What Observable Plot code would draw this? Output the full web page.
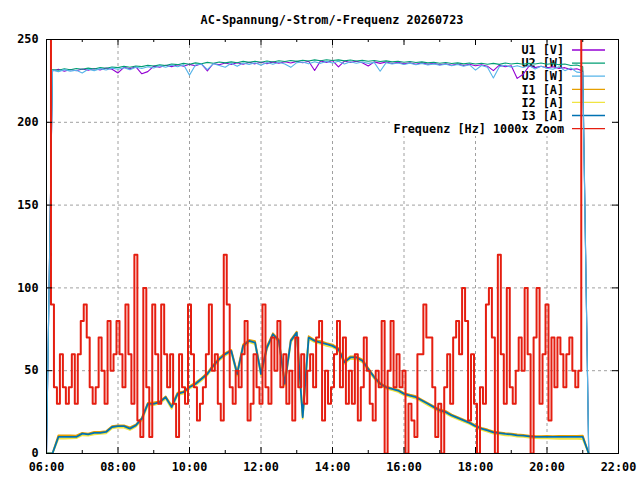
<!DOCTYPE html>
<html><head><meta charset="utf-8">
<script src="https://cdn.jsdelivr.net/npm/d3@7"></script>
<script src="https://cdn.jsdelivr.net/npm/@observablehq/plot@0.6"></script>
<style>
body{margin:0;background:#fff;width:640px;height:480px;overflow:hidden;font-family:"DejaVu Sans Mono",monospace;}
#title{position:relative;height:30px;}
#title span{position:absolute;left:0;width:664px;top:13px;line-height:14px;text-align:center;font-size:11.8px;font-weight:bold;color:#000;}
</style></head><body>
<div id="title"><span>AC-Spannung/-Strom/-Frequenz 20260723</span></div>
<div id="chart"></div>
<script>
// ---- data ----
const xMajorTicks = [6,8,10,12,14,16,18,20,22];
const xMinorTicks = [7,9,11,13,15,17,19,21];
const yTickValues = [0,50,100,150,200,250];
const seriesNames = ["U1 [V]","U2 [W]","U3 [W]","I1 [A]","I2 [A]","I3 [A]","Frequenz [Hz] 1000x Zoom"];

// 10-minute samples from 06:00 to 21:10
const U1 = [0, 231.0,232.0,230.8,231.9,231.1,232.2, 231.4,232.5,231.6,232.8,232.0,229.8, 233.2,232.3,233.5,229.3,230.6,233.9, 233.2,234.4,233.6,234.7,233.9,235.0, 234.2,235.3,231.0,235.5,234.7,235.8, 234.9,236.0,235.1,236.2,235.3,236.3, 235.4,236.5,235.7,236.6,235.8,236.8, 236.0,236.9,231.3,237.1,236.2,237.3, 233.5,237.0,236.1,236.9,236.0,234.0, 236.5,235.6,236.4,235.5,236.2,235.3, 236.0,235.1,235.9,235.0,235.6,234.8, 235.4,234.5,235.2,234.3,235.0,234.1, 234.8,233.9,231.2,234.5,233.5,234.2, 226.5,229.0,234.0,233.0,233.8,232.9, 233.5,232.5,233.0,231.8,232.3,231.0, 1];
const U2 = [0, 231.9,231.4,232.3,231.7,232.5,232.0, 232.7,232.2,233.0,232.6,233.4,233.0, 233.8,233.2,234.0,233.6,234.4,234.0, 234.7,234.3,235.2,234.8,235.6,235.1, 235.9,235.4,236.2,235.7,236.4,235.9, 236.5,236.0,236.8,236.2,236.9,236.3, 237.0,236.4,237.2,236.7,237.3,236.8, 237.5,237.0,237.7,237.2,237.8,237.3, 237.7,237.1,237.6,237.0,237.4,236.9, 237.3,236.7,237.1,236.5,236.9,236.3, 236.7,236.1,236.5,235.9,236.3,235.7, 236.1,235.5,235.9,235.3,235.8,235.2, 235.7,235.1,235.6,235.0,235.8,235.2, 235.7,235.1,235.6,235.2,235.8,235.1, 235.5,234.8,235.2,234.3,234.6,233.5, 0];
const U3 = [0, 231.5,230.6,231.8,230.9,231.4,229.8, 232.0,231.2,232.4,231.6,232.7,232.0, 232.9,231.8,233.3,232.5,233.6,232.8, 234.1,233.2,234.4,233.5,234.8,228.5, 234.6,235.2,231.8,235.4,234.3,233.2, 235.6,233.8,235.8,234.9,236.0,234.4, 236.1,235.0,236.3,235.2,233.2,236.0, 236.4,235.3,236.6,235.6,236.8,235.8, 236.9,235.2,236.6,235.7,236.4,235.6, 236.2,230.8,236.0,235.2,235.8,234.9, 235.7,234.8,235.5,234.6,235.3,234.4, 235.1,234.2,234.9,233.9,234.7,231.5, 234.3,233.3,226.8,233.6,234.5,233.2, 234.2,233.1,234.3,232.2,233.8,232.6, 232.0,233.5,231.2,232.8,230.3,230.0, 0];
const I1 = [0,0,11,11,11,10.8,12.5, 12,13,13,13.5,16.5,17, 17,15.8,17.5,21.5,30.5,30.8, 31.5,34.5,29,36.8,37.5,40.6, 42.8,45.5,48.8,53.6,57.8,60.7, 62.6,49,65.8,68.6,67.8,49, 64.8,72.6,68.8,43,68.7,73.6, 23,70.8,68.6,67.8,66.7,65.8, 63.6,55.8,58.7,58.6,56.8,51.6, 46.5,42.6,40.5,39.4,38.6,36.5, 35.5,34.6,32.5,30.5,28.5,26.6, 25.6,23.5,22.0,20.5,19.0,17.0, 15.5,14.5,13.3,12.8,12.3,12.0, 11.5,11.3,10.8,10.6,10.5,10.6, 10.5,10.6,10.7,10.6,10.7,10.8, 0];
const I2 = [0,0,9,9,9.2,9.3,11, 10.8,11.6,11.8,12.2,15.2,15.8, 15.6,14.2,16.2,20,29,29.2, 30.2,33.2,27,35.2,36.2,39.2, 41.2,44,47.2,52.2,56.2,59.2, 61.2,47,64.2,67.2,66,47, 63,71.2,67.2,41,67.2,72.2, 21,69.2,67.2,66.2,65,64.2, 62.2,54.2,57.2,57,55.2,50.2, 45.2,41.2,39.2,38.2,37.2,35.2, 34.2,33.2,31.2,29.2,27.2,25.2, 24.2,22.2,20.8,19.2,17.8,15.8, 14.2,13.2,12.0,11.6,11.0,10.8, 10.2,10,9.6,9.3,9.2,9.1, 9.0,8.9,9.0,8.8,8.9,8.7, 0];
const I3 = [0,0,10,10,10,10,12, 11.5,12.5,12.5,13,16,16.5, 16.5,15,17,21,30,30, 31,34,28,36,37,40, 42,45,48,53,57,60, 62,48,65,68,67,48, 64,72,68,42,68,73, 22,70,68,67,66,65, 63,55,58,58,56,51, 46,42,40,39,38,36, 35,34,32,30,28,26, 25,23,21.5,20,18.5,16.5, 15,14,12.8,12.3,11.8,11.5, 11,10.8,10.3,10,10,10, 10,10,10,10,10,10, 0];
// 5-minute samples from 06:05 to 21:00 (first/last off-scale)
const FREQ = [400,90,40,30,60,40,30,40,60,30, 60,80,90,70,40,30,40,70,50,30, 80,50,60,80,60,40,90,60,30,120, 20,10,100,40,10,90,60,30,90,60, 40,60,30,10,60,40,30,90,60,40, 20,30,40,60,90,50,60,30,20,120, 90,40,30,50,40,60,80,20,30,60, 40,30,90,40,30,70,50,80,40,60, 30,50,20,70,40,60,30,50,60,40, 70,80,20,50,30,40,60,80,40,70, 30,50,30,60,20,40,70,50,30,20, 50,40,80,0,50,80,40,60,40,50, 0,30,20,10,60,60,90,70,70,40, 10,30,0,40,60,30,70,80,60,100, 80,20,60,30,0,40,30,90,100,70, 0,120,60,30,100,40,30,50,70,50, 100,60,0,70,100,30,60,90,20,70, 40,70,60,40,60,70,50,40,50,400];

const gridHours = d3.range(U1.length).map(k => 6 + k * 10 / 60);
const freqHours = d3.range(FREQ.length).map(i => 6 + (5 + 5 * i) / 60);

// ---- styles ----
const colors = ["#9400d3","#009e73","#56b4e9","#e69f00","#f0e442","#0072b2","#e51e10"];
const seriesValues = [U1,U2,U3,I1,I2,I3,FREQ];
const seriesTimes = [gridHours,gridHours,gridHours,gridHours,gridHours,gridHours,freqHours];
const widths = [1.1,1.1,1.1,1.8,1.8,1.8,2];
const curves = ["linear","linear","linear","linear","linear","linear","step"];

const W = 640, H = 450, mL = 46, mR = 22, mT = 9, mB = 27;
const fw = W - mL - mR, fh = H - mT - mB;
const gridStyle = {stroke:"#a0a0a0", strokeDasharray:"3,3", strokeWidth:1};
const fmt = h => (h < 10 ? "0" : "") + h + ":00";

const lineMarks = seriesValues.map((vals, s) =>
  Plot.line(vals, {x: (d, i) => seriesTimes[s][i], y: d => d, stroke: colors[s], strokeWidth: widths[s], curve: curves[s], clip: true})
);

const plot = Plot.plot({
  width: W, height: H,
  marginLeft: mL, marginRight: mR, marginTop: mT, marginBottom: mB,
  style: {fontFamily: "'DejaVu Sans Mono', monospace", fontSize: "11.8px", fontWeight: "bold", color: "#000", background: "#fff"},
  x: {domain: [6, 22], ticks: xMajorTicks, tickFormat: fmt, tickSize: 0, tickPadding: 9, label: null},
  y: {domain: [0, 250], ticks: yTickValues, tickSize: 0, tickPadding: 8, label: null},
  marks: [
    Plot.ruleY(yTickValues.slice(1, -1), {y: d => d, ...gridStyle}),
    Plot.ruleX(xMajorTicks.slice(1, -1), {x: d => d, ...gridStyle}),
    ...lineMarks,
    Plot.frame({stroke: "#000", strokeWidth: 1}),
    Plot.tickX(xMajorTicks, {x: d => d, stroke: "#000", insetTop: fh - 6}),
    Plot.tickX(xMinorTicks, {x: d => d, stroke: "#000", insetTop: fh - 3}),
    Plot.tickX(xMajorTicks, {x: d => d, stroke: "#000", insetBottom: fh - 6}),
    Plot.tickX(xMinorTicks, {x: d => d, stroke: "#000", insetBottom: fh - 3}),
    Plot.tickY(yTickValues, {y: d => d, stroke: "#000", insetRight: fw - 6}),
    Plot.tickY(yTickValues, {y: d => d, stroke: "#000", insetLeft: fw - 6})
  ]
});
document.getElementById("chart").appendChild(plot);

// legend (opaque key box under the data, like gnuplot)
const firstLine = plot.querySelector('g[aria-label="line"]');
const key = d3.create("svg:g");
key.append("rect").attr("x", 390).attr("y", 13).attr("width", 222).attr("height", 93).attr("fill", "#fff");
seriesNames.forEach((name, i) => {
  const y = 20 + 13.1 * i;
  key.append("text").attr("x", 564).attr("y", y).attr("dy", "0.36em").attr("text-anchor", "end")
    .attr("fill", "#000").text(name);
  key.append("line").attr("x1", 572).attr("x2", 605).attr("y1", y).attr("y2", y)
    .attr("stroke", colors[i]).attr("stroke-width", 1.3);
});
plot.insertBefore(key.node(), firstLine);
</script>
</body></html>
